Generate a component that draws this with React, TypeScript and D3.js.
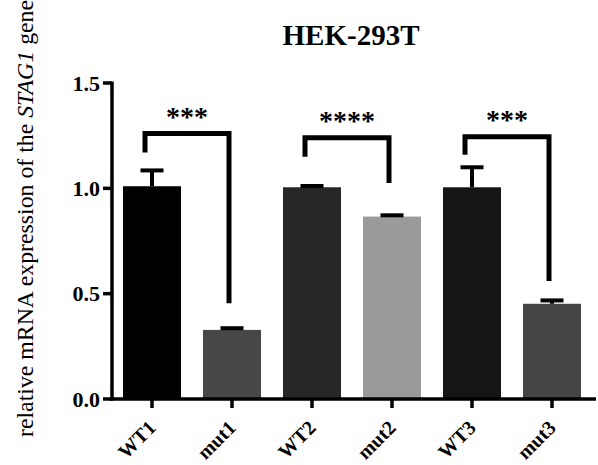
import * as d3 from 'd3';

const categories = ['WT1', 'mut1', 'WT2', 'mut2', 'WT3', 'mut3'];
const means = [1.01, 0.328, 1.005, 0.866, 1.005, 0.452];
const errors = [0.075, 0.008, 0.006, 0.006, 0.095, 0.016];
const barColors = ['#000000', '#474747', '#262626', '#9a9a9a', '#151515', '#454545'];
const yTicks = [0.0, 0.5, 1.0, 1.5];

// significance brackets: [left group, right group, bar height, left leg end, right leg end, label]
const sigLeft = ['WT1', 'WT2', 'WT3'];
const sigRight = ['mut1', 'mut2', 'mut3'];
const sigTop = [1.26, 1.24, 1.245];
const sigLeftEnd = [1.17, 1.15, 1.16];
const sigRightEnd = [0.455, 1.025, 0.56];
const sigLabels = ['***', '****', '***'];

const W = 598;
const H = 465;
const SERIF = "'Liberation Serif', 'Times New Roman', 'DejaVu Serif', serif";

export default function App() {
  const x = d3.scaleBand<string>()
    .domain(categories)
    .range([112, 592])
    .paddingInner(0.275)
    .paddingOuter(0.1375);
  const y = d3.scaleLinear().domain([0, 1.5]).range([399, 83]);
  const bw = x.bandwidth();
  const cx = (c: string) => (x(c) ?? 0) + bw / 2;

  return (
    <svg width={W} height={H} style={{ position: 'absolute', left: 0, top: 0, background: '#fff', fontFamily: SERIF }}>
      {/* title */}
      <text x={351} y={45} textAnchor="middle" style={{ fontFamily: SERIF }} fontWeight="bold" fontSize={29}>
        HEK-293T
      </text>

      {/* y label */}
      <text
        transform={`translate(33,437) rotate(-90)`}
        style={{ fontFamily: SERIF }}
        fontSize={23.8}
        textAnchor="start"
      >
        relative mRNA expression of the <tspan fontStyle="italic">STAG1</tspan> gene
      </text>

      {/* bars */}
      {categories.map((c, i) => (
        <rect key={c} x={x(c)} y={y(means[i])} width={bw} height={y(0) - y(means[i])} fill={barColors[i]} />
      ))}

      {/* error bars */}
      {categories.map((c, i) => (
        <g key={'e' + c} stroke="#000" strokeWidth={4}>
          <line x1={cx(c)} x2={cx(c)} y1={y(means[i])} y2={y(means[i] + errors[i])} />
          <line x1={cx(c) - 11.5} x2={cx(c) + 11.5} y1={y(means[i] + errors[i])} y2={y(means[i] + errors[i])} />
        </g>
      ))}

      {/* axes */}
      <line x1={112} x2={112} y1={y(1.5) - 1.5} y2={y(0) + 1.5} stroke="#000" strokeWidth={3.5} />
      <line x1={110.5} x2={596} y1={y(0)} y2={y(0)} stroke="#000" strokeWidth={3.5} />
      {yTicks.map(t => (
        <g key={t}>
          <line x1={103} x2={112} y1={y(t)} y2={y(t)} stroke="#000" strokeWidth={3.5} />
          <text x={100} y={y(t)} dy="0.35em" textAnchor="end" style={{ fontFamily: SERIF }} fontWeight="bold" fontSize={22}>
            {t.toFixed(1)}
          </text>
        </g>
      ))}
      {categories.map(c => (
        <g key={'t' + c}>
          <line x1={cx(c)} x2={cx(c)} y1={y(0)} y2={y(0) + 9} stroke="#000" strokeWidth={3.5} />
          <text
            transform={`translate(${cx(c) + 5},${y(0) + 30}) rotate(-45)`}
            textAnchor="end"
            style={{ fontFamily: SERIF }}
            fontWeight="bold"
            fontSize={20}
          >
            {c}
          </text>
        </g>
      ))}

      {/* significance */}
      {sigLabels.map((lab, i) => {
        const xl = cx(sigLeft[i]) - 7;
        const xr = cx(sigRight[i]) - 3;
        const yt = y(sigTop[i]);
        return (
          <g key={'s' + i}>
            <path
              d={`M${xl},${y(sigLeftEnd[i])}V${yt}H${xr}V${y(sigRightEnd[i])}`}
              fill="none"
              stroke="#000"
              strokeWidth={5}
            />
            <text x={(xl + xr) / 2} y={yt - 8} textAnchor="middle" style={{ fontFamily: SERIF }} fontWeight="bold" fontSize={28}>
              {lab}
            </text>
          </g>
        );
      })}
    </svg>
  );
}
